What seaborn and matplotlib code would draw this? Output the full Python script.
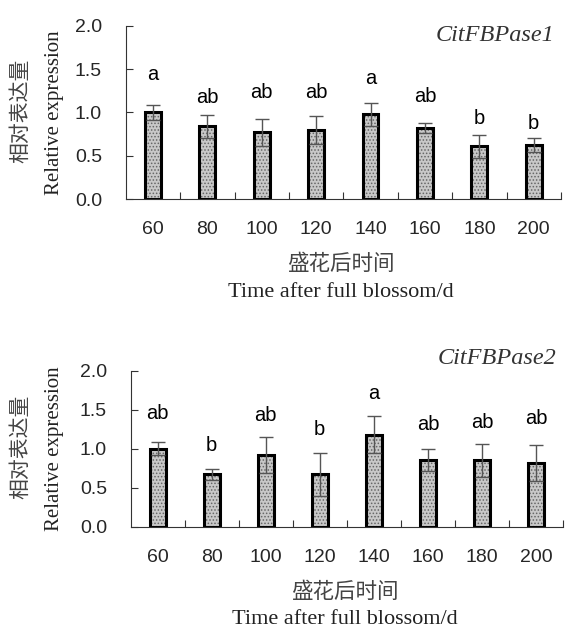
import numpy as np
import pandas as pd
import seaborn as sns
import matplotlib.pyplot as plt

# days after full blossom
days = ['60', '80', '100', '120', '140', '160', '180', '200']

# CitFBPase1
fb1_mean = [1.00, 0.84, 0.77, 0.80, 0.98, 0.82, 0.61, 0.63]
fb1_err = [0.09, 0.13, 0.16, 0.16, 0.135, 0.06, 0.13, 0.08]
fb1_sig = ['a', 'ab', 'ab', 'ab', 'a', 'ab', 'b', 'b']
fb1_sig_y = [1.33, 1.06, 1.12, 1.12, 1.28, 1.07, 0.82, 0.76]

# CitFBPase2
fb2_mean = [1.00, 0.67, 0.92, 0.67, 1.18, 0.85, 0.85, 0.82]
fb2_err = [0.08, 0.07, 0.23, 0.28, 0.24, 0.14, 0.21, 0.23]
fb2_sig = ['ab', 'b', 'ab', 'b', 'a', 'ab', 'ab', 'ab']
fb2_sig_y = [1.33, 0.92, 1.30, 1.12, 1.58, 1.19, 1.21, 1.27]

sns.set_theme(style='ticks')
plt.rcParams['font.family'] = ['Liberation Sans', 'Noto Sans CJK SC']
plt.rcParams['hatch.linewidth'] = 0.7

serif = ['Liberation Serif', 'Noto Sans CJK SC']
cjk = ['Noto Sans CJK SC', 'Liberation Serif']

fig = plt.figure(figsize=(5.65, 6.3), dpi=100)

panels = [
    ([0.2225, 0.6837, 0.7704, 0.2755], fb1_mean, fb1_err, fb1_sig, fb1_sig_y, 'CitFBPase1', 0.945),
    ([0.2313, 0.1640, 0.7651, 0.2476], fb2_mean, fb2_err, fb2_sig, fb2_sig_y, 'CitFBPase2', 1.08),
]

for rect, mean, err, sig, sig_y, gene, gene_y in panels:
    ax = fig.add_axes(rect)
    df = pd.DataFrame({'day': days, 'expr': mean})

    # stippled fill, then a black outline on top
    sns.barplot(data=df, x='day', y='expr', ax=ax, width=0.29, color='#c8c8c8',
                saturation=1, edgecolor='#666666', linewidth=0, hatch='.....',
                errorbar=None)
    sns.barplot(data=df, x='day', y='expr', ax=ax, width=0.29, color='black',
                saturation=1, fill=False, linewidth=2.2, errorbar=None)

    ax.errorbar(np.arange(len(days)), mean, yerr=err, fmt='none', ecolor='#555555',
                elinewidth=1.0, capsize=5, capthick=1.0, zorder=5)

    for i, (s, y) in enumerate(zip(sig, sig_y)):
        ax.text(i, y, s, ha='center', va='bottom', fontsize=14.5, color='black')

    ax.set_xlim(-0.5, len(days) - 0.5)
    ax.set_ylim(0, 2.0)
    ax.set_yticks([0, 0.5, 1.0, 1.5, 2.0])
    ax.set_yticklabels(['0.0', '0.5', '1.0', '1.5', '2.0'], fontsize=14)

    ax.set_xticks(np.arange(len(days)) + 0.5)
    ax.set_xticklabels([])
    ax.set_xticks(np.arange(len(days)), minor=True)
    ax.set_xticklabels(days, minor=True, fontsize=14)
    ax.tick_params(axis='x', which='major', direction='in', length=5, width=0.8, color='#333333')
    ax.tick_params(axis='x', which='minor', length=0, pad=16)
    ax.tick_params(axis='y', direction='in', length=5, width=0.8, color='#333333', pad=17)

    ax.set_xlabel('')
    ax.set_ylabel('')
    sns.despine(ax=ax)
    for sp in ['left', 'bottom']:
        ax.spines[sp].set_linewidth(0.8)
        ax.spines[sp].set_color('#333333')

    ax.text(0.985, gene_y, gene, transform=ax.transAxes, ha='right', va='center',
            fontsize=17.5, style='italic', family=serif, color='#333333')

    # axis titles (Chinese + English), placed relative to the axes box
    x0, y0, w, h = rect
    fig.text(20 / 565, y0 + h / 2 + 0.003, '相对表达量', rotation=90, ha='center', va='center',
             fontsize=15, family=cjk, color='#444444')
    fig.text(55 / 565, y0 + h / 2, 'Relative expression', rotation=90, ha='center', va='center',
             fontsize=15, family=serif, color='#222222')
    fig.text(x0 + w / 2 - 0.004, y0 - 65 / 630, '盛花后时间', ha='center', va='center',
             fontsize=15.5, family=cjk, color='#444444')
    fig.text(x0 + w / 2 - 0.004, y0 - 93 / 630, 'Time after full blossom/d', ha='center',
             va='center', fontsize=16, family=serif, color='#222222')

fig.savefig('out.png', dpi=100)
